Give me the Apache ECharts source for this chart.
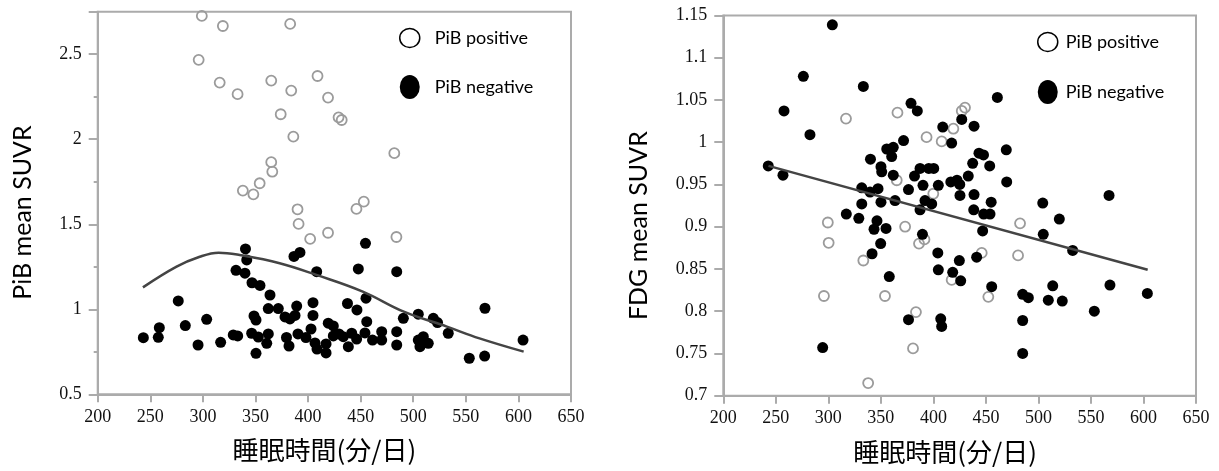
<!DOCTYPE html>
<html>
<head>
<meta charset="utf-8">
<script src="https://cdn.jsdelivr.net/npm/echarts@6/dist/echarts.min.js"></script>
<style>
  html, body { margin: 0; padding: 0; background: #fff; }
  #chart { width: 1219px; height: 471px; }
</style>
</head>
<body>
<div id="chart"></div>
<script>
// Sleep time (min/day) vs PiB mean SUVR
const pibPositive = [
  [299, 2.725], [319, 2.666], [296, 2.467], [316, 2.333], [333, 2.265], [365, 2.345],
  [383, 2.678], [384, 2.286], [374, 2.147], [386, 2.015], [365, 1.865], [366, 1.809],
  [338, 1.698], [348, 1.676], [354, 1.741], [390, 1.588], [391, 1.502], [409, 2.372],
  [419, 2.245], [429, 2.129], [432, 2.113], [482, 1.918], [446, 1.590], [453, 1.633],
  [419, 1.450], [402, 1.414], [484, 1.425]
];
const pibNegative = [
  [243.4, 0.833], [257.6, 0.835], [258.6, 0.892], [276.6, 1.049], [283.3, 0.904], [295.4, 0.790],
  [303.6, 0.941], [316.9, 0.806], [328.9, 0.849], [333.1, 0.843], [331.5, 1.229], [340.5, 1.355],
  [341.7, 1.290], [340.0, 1.212], [346.7, 1.156], [354.3, 1.140], [363.8, 1.084], [362.2, 1.004],
  [371.7, 1.004], [348.6, 0.961], [350.5, 0.937], [346.4, 0.859], [352.7, 0.837], [360.7, 0.800],
  [362.2, 0.855], [350.5, 0.741], [378.1, 0.955], [382.8, 0.943], [379.5, 0.834], [381.9, 0.784],
  [387.6, 0.964], [389.2, 1.019], [386.6, 1.311], [392.3, 1.334], [390.4, 0.855], [404.7, 1.039],
  [404.7, 0.964], [408.2, 1.221], [437.5, 1.034], [446.5, 0.996], [447.8, 1.237], [454.6, 1.388],
  [455.1, 1.065], [455.8, 0.927], [484.3, 1.221], [490.6, 0.947], [504.8, 0.971], [519.1, 0.947],
  [523.1, 0.922], [533.3, 0.859], [568.2, 1.006], [604.4, 0.819], [553.3, 0.712], [567.9, 0.725],
  [484.3, 0.868], [484.3, 0.790], [504.8, 0.819], [509.6, 0.839], [506.4, 0.780], [514.3, 0.800],
  [398.0, 0.834], [402.8, 0.884], [406.6, 0.802], [408.5, 0.766], [417.1, 0.796], [417.1, 0.743],
  [419.2, 0.918], [424.0, 0.902], [424.0, 0.843], [429.4, 0.855], [433.5, 0.839], [438.3, 0.780],
  [441.5, 0.859], [446.2, 0.825], [454.1, 0.861], [461.3, 0.819], [470.0, 0.868], [470.0, 0.819]
];
const pibFitCurve = [
  [243, 1.129], [275, 1.251], [297, 1.309], [315, 1.333], [335, 1.319], [373, 1.271],
  [408, 1.202], [452, 1.104], [491, 0.986], [532, 0.898], [563, 0.829], [605, 0.751]
];

// Sleep time (min/day) vs FDG mean SUVR
const fdgPositive = [
  [316.8, 1.028], [365.8, 1.035], [365.1, 0.955], [299.5, 0.905], [373.1, 0.900], [300.3, 0.881],
  [333.3, 0.860], [295.8, 0.818], [353.9, 0.818], [337.9, 0.715], [380.6, 0.756], [383.4, 0.799],
  [430.1, 1.041], [427.0, 1.037], [419.0, 1.016], [393.5, 1.006], [407.9, 1.001], [399.9, 0.939],
  [482.5, 0.904], [386.3, 0.880], [391.5, 0.885], [446.0, 0.869], [480.6, 0.866], [417.4, 0.837],
  [452.3, 0.817]
];
const fdgNegative = [
  [303.8, 1.139], [276.2, 1.078], [333.3, 1.066], [257.8, 1.037], [282.5, 1.009], [242.8, 0.972],
  [256.8, 0.961], [378.7, 1.046], [384.7, 1.037], [371.6, 1.002], [355.6, 0.992], [361.8, 0.994],
  [360.3, 0.983], [340.1, 0.980], [350.1, 0.971], [350.8, 0.965], [361.8, 0.961], [331.8, 0.946],
  [339.7, 0.941], [347.3, 0.945], [350.1, 0.929], [363.5, 0.931], [376.3, 0.944], [331.8, 0.927],
  [317.1, 0.915], [329.0, 0.910], [346.3, 0.907], [343.5, 0.897], [354.9, 0.898], [349.8, 0.880],
  [341.6, 0.868], [358.0, 0.841], [294.6, 0.757], [376.3, 0.790], [460.9, 1.053], [427.0, 1.027],
  [408.9, 1.018], [438.7, 1.019], [417.4, 0.999], [469.4, 0.991], [443.4, 0.987], [447.7, 0.985],
  [437.4, 0.975], [453.6, 0.972], [469.8, 0.953], [433.2, 0.960], [387.3, 0.969], [395.6, 0.969],
  [400.3, 0.969], [382.0, 0.960], [416.6, 0.953], [422.5, 0.955], [425.1, 0.950], [404.7, 0.949],
  [390.1, 0.949], [425.3, 0.937], [438.7, 0.938], [455.0, 0.929], [392.0, 0.931], [398.4, 0.927],
  [387.3, 0.920], [438.4, 0.920], [447.9, 0.915], [453.9, 0.915], [504.1, 0.928], [519.9, 0.909],
  [567.2, 0.937], [504.6, 0.891], [389.6, 0.891], [446.9, 0.895], [532.6, 0.872], [404.2, 0.869],
  [424.7, 0.860], [441.2, 0.864], [404.7, 0.849], [418.4, 0.846], [426.0, 0.836], [455.5, 0.829],
  [513.6, 0.830], [568.1, 0.831], [603.7, 0.821], [485.0, 0.820], [490.4, 0.816], [509.4, 0.813],
  [522.7, 0.812], [553.2, 0.800], [407.0, 0.791], [407.9, 0.782], [485.0, 0.789], [485.0, 0.750]
];
const fdgFitLine = [[243, 0.972], [604, 0.849]];

const seriesNames = ['PiB positive', 'PiB negative'];
const xTitle = '睡眠時間(分/日)';
const yTitles = ['PiB mean SUVR', 'FDG mean SUVR'];

const frameGray = '#ababab';
const tickFont = { fontFamily: 'Liberation Serif', fontSize: 18, fontWeight: 'normal', color: '#111' };
const titleFont = { fontFamily: 'Lato', fontSize: 25, fontWeight: 'normal', color: '#000' };
const cjkFont = { fontFamily: 'Noto Sans CJK JP', fontSize: 26, fontWeight: 'normal', color: '#000' };

const openIcon = 'path://M0,9.5A10,9.5 0 1,1 20,9.5A10,9.5 0 1,1 0,9.5Z';
const filledIcon = 'path://M0,12A10,12 0 1,1 20,12A10,12 0 1,1 0,12Z';

function xAxisFor(gridIndex, shift) {
  return {
    type: 'value', gridIndex, min: 200, max: 650, interval: 50,
    axisLine: { show: true, lineStyle: { color: frameGray, width: 2 } },
    axisTick: { show: true, length: 8, lineStyle: { color: frameGray, width: 2 } },
    axisLabel: Object.assign({ margin: 14 }, tickFont),
    splitLine: { show: false },
    name: xTitle, nameLocation: 'middle', nameGap: 43,
    nameTextStyle: Object.assign({ padding: [0, shift, 0, 0] }, cjkFont)
  };
}

function legendFor(left, top, gap, textPad) {
  return {
    orient: 'vertical', left, top, itemWidth: 20, itemHeight: 24, itemGap: gap,
    selectedMode: false,
    textStyle: { fontFamily: 'Lato', fontSize: 18, color: '#000', lineHeight: 16, padding: [0, 0, 8, textPad] },
    data: [
      { name: seriesNames[0], icon: openIcon, itemStyle: { color: '#fff', borderColor: '#000', borderWidth: 1.5, opacity: 1 } },
      { name: seriesNames[1], icon: filledIcon, itemStyle: { color: '#000', borderWidth: 0, opacity: 1 } }
    ]
  };
}

function openSeries(data, xi, yi) {
  return {
    name: seriesNames[0], type: 'scatter', xAxisIndex: xi, yAxisIndex: yi, data,
    symbol: 'circle', symbolSize: 10, z: 2,
    itemStyle: { color: 'rgba(255,255,255,0)', borderColor: '#9b9b9b', borderWidth: 1.8, opacity: 1 }
  };
}
function filledSeries(data, xi, yi) {
  return {
    name: seriesNames[1], type: 'scatter', xAxisIndex: xi, yAxisIndex: yi, data,
    symbol: 'circle', symbolSize: 11, z: 3,
    itemStyle: { color: '#000', opacity: 1 }
  };
}

const option = {
  animation: false,
  backgroundColor: '#fff',
  grid: [
    { left: 97.7, top: 11.7, width: 473.3, height: 382.6, show: true, borderColor: frameGray, borderWidth: 2, backgroundColor: 'transparent' },
    { left: 723.3, top: 15.5, width: 472.7, height: 380.2, show: true, borderColor: frameGray, borderWidth: 2, backgroundColor: 'transparent' }
  ],
  legend: [legendFor(394, 21, 25, 10), legendFor(1032, 25, 26, 3)],
  xAxis: [xAxisFor(0, 20), xAxisFor(1, 29)],
  yAxis: [
    // quarter-step minor ticks of the PiB axis
    {
      type: 'value', gridIndex: 0, position: 'left', min: 0.5, max: 2.75, interval: 0.25,
      axisLine: { show: true, lineStyle: { color: frameGray, width: 2 } },
      axisTick: { show: true, length: 4, lineStyle: { color: frameGray, width: 2 } },
      axisLabel: { show: false }, splitLine: { show: false }
    },
    // labelled half-step ticks of the PiB axis
    {
      type: 'value', gridIndex: 0, position: 'left', min: 0.5, max: 2.75, interval: 0.5,
      axisLine: { show: false },
      axisTick: { show: true, length: 9, lineStyle: { color: frameGray, width: 2 } },
      axisLabel: Object.assign({
        margin: 16,
        formatter: v => (v > 2.6 ? '' : String(+v.toFixed(2)))
      }, tickFont),
      splitLine: { show: false },
      name: yTitles[0], nameLocation: 'middle', nameGap: 62,
      nameTextStyle: Object.assign({ padding: [0, 19, 0, 0] }, titleFont)
    },
    {
      type: 'value', gridIndex: 1, position: 'left', min: 0.7, max: 1.15, interval: 0.05,
      axisLine: { show: true, lineStyle: { color: frameGray, width: 2 } },
      axisTick: { show: true, length: 9, lineStyle: { color: frameGray, width: 2 } },
      axisLabel: Object.assign({
        margin: 16,
        formatter: v => String(+v.toFixed(2))
      }, tickFont),
      splitLine: { show: false },
      name: yTitles[1], nameLocation: 'middle', nameGap: 72,
      nameTextStyle: Object.assign({ padding: [0, 40, 0, 0] }, titleFont)
    }
  ],
  series: [
    openSeries(pibPositive, 0, 0),
    filledSeries(pibNegative, 0, 0),
    {
      type: 'line', xAxisIndex: 0, yAxisIndex: 0, data: pibFitCurve, smooth: 0.4,
      showSymbol: false, silent: true, z: 4,
      lineStyle: { color: '#444', width: 2.5 }
    },
    openSeries(fdgPositive, 1, 2),
    filledSeries(fdgNegative, 1, 2),
    {
      type: 'line', xAxisIndex: 1, yAxisIndex: 2, data: fdgFitLine,
      showSymbol: false, silent: true, z: 4,
      lineStyle: { color: '#444', width: 2.5 }
    }
  ]
};

const chart = echarts.init(document.getElementById('chart'));
chart.setOption(option);
</script>
</body>
</html>
